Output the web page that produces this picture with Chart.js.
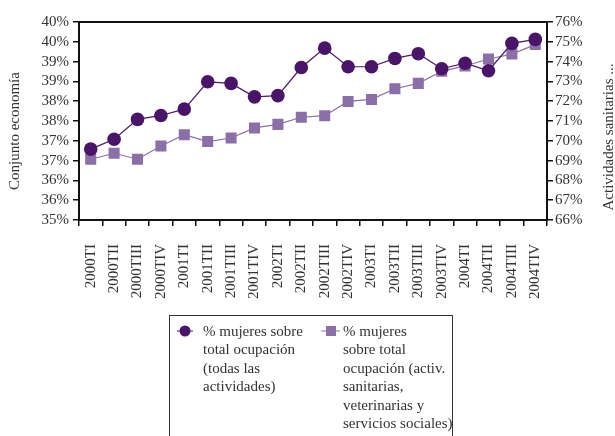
<!DOCTYPE html>
<html>
<head>
  <meta charset="utf-8">
  <title>Mujeres ocupadas</title>
  <script src="https://cdn.jsdelivr.net/npm/chart.js"></script>
  <style>
    body { margin: 0; background: #fff; }
    #wrap { width: 615px; height: 436px; }
  </style>
</head>
<body>
<div id="wrap"><canvas id="chart" width="615" height="436"></canvas></div>

<script>
var quarters = ['2000TI','2000TII','2000TIII','2000TIV','2001TI','2001TII','2001TIII','2001TIV',
  '2002TI','2002TII','2002TIII','2002TIV','2003TI','2003TII','2003TIII','2003TIV',
  '2004TI','2004TII','2004TIII','2004TIV'];

// % mujeres sobre total ocupacion, todas las actividades (eje izquierdo)
var totalEconomia = [36.79, 37.04, 37.54, 37.64, 37.80, 38.49, 38.45, 38.11, 38.14, 38.85,
  39.34, 38.87, 38.87, 39.08, 39.20, 38.82, 38.96, 38.77, 39.46, 39.56];

// % mujeres en activ. sanitarias, veterinarias y servicios sociales (eje derecho)
var sanitarias = [69.07, 69.37, 69.07, 69.74, 70.31, 69.96, 70.14, 70.65, 70.83, 71.19,
  71.27, 71.99, 72.09, 72.63, 72.90, 73.51, 73.78, 74.13, 74.38, 74.86];

// left axis runs 35-40 in half points, labels rounded to whole percent
var leftTicks = [35, 35.5, 36, 36.5, 37, 37.5, 38, 38.5, 39, 39.5, 40];
var rightTicks = [66, 67, 68, 69, 70, 71, 72, 73, 74, 75, 76];

var leftTitle = 'Conjunto economía';
var rightTitle = 'Actividades sanitarias ...';
var nameTotal = ['% mujeres sobre', 'total ocupación', '(todas las', 'actividades)'];
var nameSanit = ['% mujeres', 'sobre total', 'ocupación (activ.', 'sanitarias,', 'veterinarias y', 'servicios sociales)'];

var dark = '#4a1468';
var light = '#8a70a6';
var serif = '"Liberation Serif", "DejaVu Serif", serif';

// box round the plot, axis titles and the legend
var extras = {
  id: 'extras',
  afterDraw: function(chart) {
    var c = chart.ctx, a = chart.chartArea;
    c.save();
    c.strokeStyle = '#111';
    c.lineWidth = 2;
    c.strokeRect(a.left, a.top, a.right - a.left, a.bottom - a.top);

    c.fillStyle = '#333';
    c.font = '15px ' + serif;
    c.textAlign = 'center';
    c.textBaseline = 'middle';
    c.save();
    c.translate(15, 131);
    c.rotate(-Math.PI / 2);
    c.fillText(leftTitle, 0, 0);
    c.restore();
    c.save();
    c.translate(609, 137);
    c.rotate(-Math.PI / 2);
    c.fillText(rightTitle, 0, 0);
    c.restore();

    // legend
    c.strokeStyle = '#333';
    c.lineWidth = 1;
    c.strokeRect(169.5, 315.5, 283, 130);
    c.textAlign = 'left';
    var lh = 18.4;
    c.strokeStyle = dark;
    c.beginPath(); c.moveTo(177, 331); c.lineTo(193, 331); c.stroke();
    c.fillStyle = dark;
    c.beginPath(); c.arc(185, 331, 5.5, 0, Math.PI * 2); c.fill();
    c.strokeStyle = light;
    c.beginPath(); c.moveTo(321, 331); c.lineTo(340, 331); c.stroke();
    c.fillStyle = light;
    c.fillRect(326, 326, 10, 10);
    c.fillStyle = '#333';
    nameTotal.forEach(function(t, i) { c.fillText(t, 203, 332 + i * lh); });
    nameSanit.forEach(function(t, i) { c.fillText(t, 343, 332 + i * lh); });
    c.restore();
  }
};

var tickFont = { family: serif, size: 15 };

function fixedTicks(values) {
  return function(s) { s.ticks = values.map(function(v) { return { value: v }; }); };
}

new Chart(document.getElementById('chart'), {
  type: 'line',
  data: {
    labels: quarters,
    datasets: [
      {
        label: nameTotal.join(' '),
        data: totalEconomia,
        yAxisID: 'y',
        borderColor: dark,
        backgroundColor: dark,
        borderWidth: 1.2,
        pointStyle: 'circle',
        pointRadius: 6.8,
        pointBorderWidth: 0,
        tension: 0
      },
      {
        label: nameSanit.join(' '),
        data: sanitarias,
        yAxisID: 'y1',
        borderColor: light,
        backgroundColor: light,
        borderWidth: 1.2,
        pointStyle: 'rect',
        pointRadius: 7.8,
        pointBorderWidth: 0,
        tension: 0
      }
    ]
  },
  options: {
    responsive: false,
    animation: false,
    layout: { padding: { top: 22, left: 0, right: 0, bottom: 0 } },
    plugins: { legend: { display: false }, tooltip: { enabled: false } },
    scales: {
      x: {
        offset: true,
        grid: { offset: true, drawOnChartArea: false, color: '#111', tickLength: 6, lineWidth: 1.5 },
        border: { display: false },
        ticks: { font: tickFont, color: '#333', maxRotation: 90, minRotation: 90, autoSkip: false, padding: 18 },
        afterFit: function(s) { s.height = 216; }
      },
      y: {
        position: 'left',
        min: 35, max: 40,
        grid: { drawOnChartArea: false, color: '#111', tickLength: 6, lineWidth: 1.5 },
        border: { display: false },
        afterBuildTicks: fixedTicks(leftTicks),
        ticks: { font: tickFont, color: '#333', padding: 4, autoSkip: false,
          callback: function(v) { return Math.round(v) + '%'; } },
        afterFit: function(s) { s.width = 79; }
      },
      y1: {
        position: 'right',
        min: 66, max: 76,
        grid: { drawOnChartArea: false, color: '#111', tickLength: 6, lineWidth: 1.5 },
        border: { display: false },
        afterBuildTicks: fixedTicks(rightTicks),
        ticks: { font: tickFont, color: '#333', padding: 2, autoSkip: false,
          callback: function(v) { return v + '%'; } },
        afterFit: function(s) { s.width = 68; }
      }
    }
  },
  plugins: [extras]
});
</script>
</body>
</html>
